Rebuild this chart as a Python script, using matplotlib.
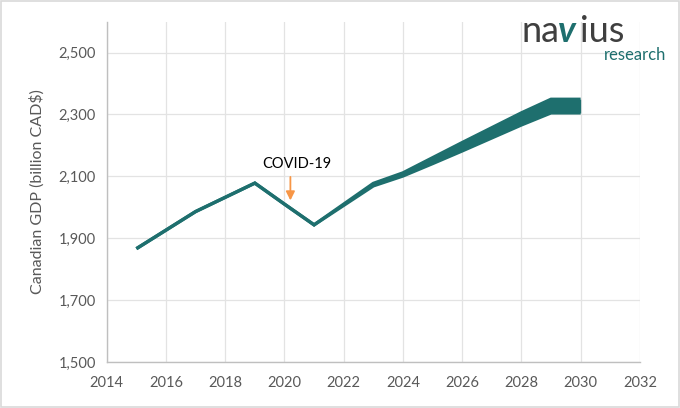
import numpy as np
import matplotlib.pyplot as plt
from matplotlib.patches import Rectangle

plt.rcParams['font.family'] = ['Lato', 'DejaVu Sans']

# GDP, billion CAD$
years = [2015, 2016, 2017, 2018, 2019, 2020, 2021, 2022, 2023, 2024,
         2025, 2026, 2027, 2028, 2029, 2030]
gdp_low = [1866, 1926, 1986, 2032, 2078, 2010, 1943, 2006, 2069, 2101,
           2141, 2182, 2224, 2266, 2305, 2305]
gdp_high = [1866, 1926, 1986, 2032, 2078, 2010, 1943, 2010, 2077, 2111,
            2160, 2209, 2257, 2305, 2349, 2349]

x_ticks = list(range(2014, 2033, 2))
y_ticks = list(range(1500, 2501, 200))

teal = '#1E6F6E'
grey_txt = '#595959'

fig = plt.figure(figsize=(6.8, 4.08), dpi=100)
ax = fig.add_axes([0.157, 0.113, 0.784, 0.834])

ax.fill_between(years, gdp_low, gdp_high, color=teal, lw=0)
ax.plot(years, gdp_low, color=teal, lw=2.4, solid_capstyle='butt', solid_joinstyle='miter')
ax.plot(years, gdp_high, color=teal, lw=2.4, solid_capstyle='butt', solid_joinstyle='miter')

# COVID-19 label and arrow
ax.text(2020.4, 2140, 'COVID-19', ha='center', va='center', fontsize=10.5, color='#000000')
ax.annotate('', xy=(2020.2, 2022), xytext=(2020.2, 2098),
            arrowprops=dict(arrowstyle='-|>', color='#F79646', lw=1.3,
                            shrinkA=0, shrinkB=0, mutation_scale=13))

ax.set_xlim(2014, 2032)
ax.set_ylim(1500, 2600)
ax.set_xticks(x_ticks)
ax.set_yticks(y_ticks)
ax.set_yticklabels([f'{v:,}' for v in y_ticks])
ax.tick_params(axis='both', length=0, labelsize=10.5, colors=grey_txt, pad=8)
ax.tick_params(axis='x', pad=10)
ax.grid(True, color='#E3E3E3', lw=0.9)
ax.set_axisbelow(True)
for s in ['top', 'right']:
    ax.spines[s].set_visible(False)
for s in ['left', 'bottom']:
    ax.spines[s].set_color('#BFBFBF')
    ax.spines[s].set_linewidth(1.0)

ax.set_ylabel('Canadian GDP (billion CAD$)', fontsize=11.5, color=grey_txt, labelpad=10)

# logo
fig.text(521 / 680, 1 - 42 / 408, 'na', fontsize=26, color='#3F3F3F', ha='left', va='baseline')
fig.text(558 / 680, 1 - 42 / 408, 'v', fontsize=26, color=teal, ha='left', va='baseline',
         style='italic', weight='bold')
fig.text(580 / 680, 1 - 42 / 408, 'ius', fontsize=26, color='#3F3F3F', ha='left', va='baseline')
fig.text(604 / 680, 1 - 60 / 408, 'research', fontsize=12, color=teal, ha='left', va='baseline')

fig.patches.append(Rectangle((0.002, 0.003), 0.996, 0.994, transform=fig.transFigure,
                             fill=False, ec='#D9D9D9', lw=1.2))

fig.savefig('out.png', dpi=100)
